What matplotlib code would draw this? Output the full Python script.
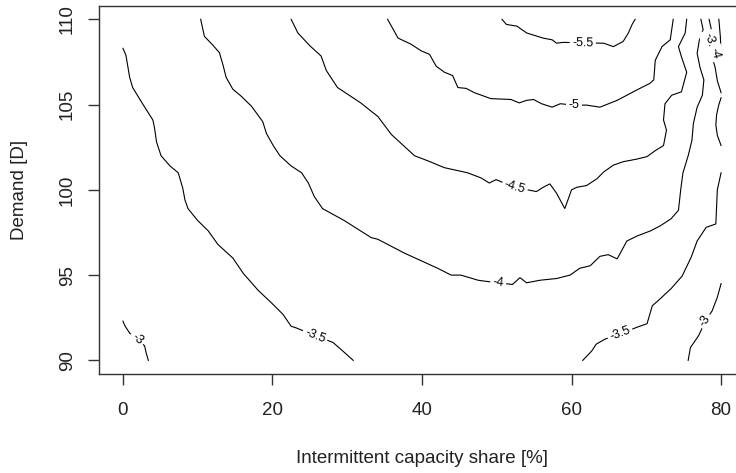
import numpy as np
import matplotlib.pyplot as plt

plt.rcParams['font.family'] = ['Liberation Sans', 'DejaVu Sans']

# contour paths (capacity share %, demand) for each level
c30_left = np.array([(0.0, 92.3), (0.3, 92.0), (0.9, 91.6), (1.9, 91.25), (2.9, 90.85),
                     (3.1, 90.45), (3.4, 90.0)])
c35_left = np.array([(0.0, 108.3), (0.4, 107.9), (0.9, 106.6), (1.3, 106.0), (2.7, 105.0),
                     (4.0, 104.1), (4.2, 103.7), (4.5, 102.8), (5.1, 102.0), (6.3, 101.4),
                     (7.4, 101.0), (8.0, 100.1), (8.3, 99.4), (8.7, 98.9), (10.0, 98.2),
                     (11.4, 97.6), (12.7, 96.8), (14.7, 96.0), (16.1, 95.1), (18.1, 94.1),
                     (19.8, 93.4), (21.4, 92.7), (22.5, 92.0), (23.2, 91.9), (25.7, 91.45),
                     (28.1, 91.05), (29.4, 90.55), (30.8, 90.0)])
c40 = np.array([(10.4, 110.0), (10.9, 109.0), (12.0, 108.5), (12.9, 108.05), (13.4, 107.3),
                (13.8, 106.6), (14.7, 105.9), (15.8, 105.5), (17.2, 104.9), (18.7, 104.0),
                (19.2, 103.3), (20.1, 102.6), (21.0, 102.0), (22.5, 101.4), (23.9, 101.0),
                (24.8, 100.4), (25.6, 99.6), (26.7, 98.9), (29.6, 98.2), (33.2, 97.2),
                (34.1, 97.1), (37.6, 96.3), (42.1, 95.4), (43.9, 95.0), (45.2, 95.0),
                (47.5, 94.7), (48.3, 94.65), (50.2, 94.55), (52.1, 94.45), (53.1, 94.85),
                (54.0, 94.55), (55.8, 94.7), (58.0, 94.8), (59.8, 95.0), (61.1, 95.4),
                (62.5, 95.55), (63.8, 96.1), (64.9, 96.2), (66.1, 95.95), (67.4, 97.0),
                (68.8, 97.3), (70.6, 97.6), (71.9, 97.9), (73.3, 98.3), (74.3, 98.8),
                (74.6, 100.0), (74.9, 101.0), (75.6, 102.0), (76.1, 102.9), (76.3, 103.9),
                (76.8, 104.85), (77.5, 105.55), (77.7, 106.45), (77.2, 107.15), (76.8, 108.0),
                (77.1, 108.8), (77.6, 109.4), (77.3, 110.0)])
c45 = np.array([(22.5, 110.0), (23.4, 109.2), (25.0, 108.45), (26.5, 107.85), (27.2, 107.0),
                (28.7, 106.0), (31.8, 105.1), (34.1, 104.3), (35.9, 103.25), (39.0, 102.0),
                (40.8, 101.7), (43.0, 101.3), (46.1, 101.0), (47.9, 100.7), (49.0, 100.4),
                (49.9, 100.6), (52.4, 100.15), (55.3, 99.9), (56.2, 100.15), (57.1, 100.35),
                (58.0, 99.8), (59.1, 98.9), (60.0, 100.0), (60.7, 100.15), (62.0, 100.25),
                (63.4, 100.65), (64.3, 101.05), (65.6, 101.45), (66.9, 101.65), (68.7, 101.8),
                (70.1, 101.95), (71.2, 102.3), (72.3, 102.6), (72.7, 103.5), (72.3, 104.1),
                (72.5, 105.05), (73.4, 105.55), (74.7, 105.75), (75.4, 106.9), (74.7, 107.8),
                (74.3, 108.4), (75.2, 109.2), (75.4, 110.0)])
c50 = np.array([(35.4, 110.0), (36.8, 108.9), (38.5, 108.55), (39.9, 108.15), (41.0, 107.95),
                (41.9, 107.25), (43.0, 106.9), (44.1, 106.7), (44.8, 106.0), (45.9, 105.95),
                (47.0, 105.7), (49.2, 105.35), (51.9, 105.3), (53.0, 105.1), (54.0, 105.25),
                (54.9, 105.3), (56.0, 105.05), (57.4, 104.85), (58.5, 105.05), (60.3, 104.97),
                (62.0, 104.97), (63.8, 104.85), (66.1, 105.25), (68.7, 105.85), (70.5, 106.25),
                (71.0, 106.45), (71.2, 107.6), (72.1, 108.4), (73.2, 108.8), (73.4, 109.4),
                (73.6, 110.0)])
c55 = np.array([(50.7, 110.0), (51.3, 109.7), (52.7, 109.6), (54.0, 109.2), (56.2, 108.9),
                (57.4, 108.8), (58.0, 108.6), (58.9, 108.65), (61.5, 108.62), (64.3, 108.6),
                (65.6, 108.4), (66.9, 108.7), (67.6, 109.2), (68.1, 109.7), (68.5, 110.0)])
c35_right = np.array([(80.0, 101.0), (79.5, 100.0), (79.3, 98.0), (78.0, 97.8), (76.8, 97.0),
                      (76.0, 96.05), (74.8, 94.95), (73.3, 94.2), (71.7, 93.55), (70.8, 93.2),
                      (70.1, 92.15), (68.8, 91.95), (66.5, 91.55), (64.5, 91.25), (63.3, 90.95),
                      (62.7, 90.55), (61.5, 90.0)])
c35_top = np.array([(78.4, 110.0), (78.7, 109.4), (78.3, 108.5), (78.7, 107.9), (79.2, 107.2),
                    (79.5, 106.4), (80.0, 105.7)])
c35_edge = np.array([(80.0, 105.4), (79.7, 105.0), (79.4, 104.4), (79.3, 103.8), (79.5, 103.2),
                     (80.0, 102.6)])
c30_right = np.array([(80.0, 94.5), (79.5, 93.7), (78.8, 92.9), (77.9, 92.3), (77.0, 91.45),
                      (75.9, 90.75), (75.6, 90.0)])
c30_top = np.array([(79.7, 110.0), (79.9, 109.0), (80.0, 108.0)])

paths = [c30_left, c35_left, c40, c45, c50, c55, c35_right, c35_top, c35_edge, c30_right, c30_top]

# inline labels: text, position, path it sits on
label_text = ['-3', '-3.5', '-4', '-4.5', '-5', '-5.5', '-3.5', '-3', '-3.5', '-4']
label_x = [1.9, 25.7, 50.2, 52.4, 60.3, 61.5, 66.5, 77.9, 78.5, 79.2]
label_y = [91.25, 91.45, 94.55, 100.15, 104.97, 108.62, 91.55, 92.3, 108.6, 108.0]
label_path = [0, 1, 2, 3, 4, 5, 6, 9, 7, 7]

x_ticks = [0, 20, 40, 60, 80]
y_ticks = [90, 95, 100, 105, 110]

W, H = 736, 473
fig = plt.figure(figsize=(W / 100, H / 100), dpi=100)
ax = fig.add_axes([99 / W, (H - 374) / H, (745 - 99) / W, (374 - 5.7) / H])
ax.set_xlim(-3.2, 83.2)
ax.set_ylim(89.2, 110.8)

for p in paths:
    ax.plot(p[:, 0], p[:, 1], color='black', lw=0.8, solid_joinstyle='miter')


def label_angle(path, lx, ly, half=13):
    # direction of the path across the label's width, in screen space
    pts = ax.transData.transform(path)
    q = ax.transData.transform((lx, ly))
    d = np.hypot(*(pts - q).T)
    near = np.where(d < half)[0]
    if len(near) >= 2:
        a, b = pts[near[0]], pts[near[-1]]
    else:
        i = int(np.argmin(d))
        a, b = pts[max(i - 1, 0)], pts[min(i + 1, len(pts) - 1)]
    ang = np.degrees(np.arctan2(b[1] - a[1], b[0] - a[0]))
    if ang > 90:
        ang -= 180
    elif ang < -90:
        ang += 180
    return ang


for txt, lx, ly, k in zip(label_text, label_x, label_y, label_path):
    ax.text(lx, ly, txt, fontsize=9, ha='center', va='center',
            rotation=label_angle(paths[k], lx, ly), rotation_mode='anchor',
            bbox=dict(boxstyle='square,pad=0.2', fc='white', ec='none'))

ax.set_xticks(x_ticks)
ax.set_yticks(y_ticks)
for s in ax.spines.values():
    s.set_color('#333333')
    s.set_linewidth(1.0)
ax.tick_params(length=8, width=1.0, color='#333333', labelsize=13.5, labelcolor='#222222')
ax.tick_params(axis='x', pad=12.5)
ax.tick_params(axis='y', pad=8.5)
for lab in ax.get_yticklabels():
    lab.set_rotation(90)
    lab.set_va('center')

ax.set_xlabel('Intermittent capacity share [%]', fontsize=13.5, color='#222222', va='center')
ax.set_ylabel('Demand [D]', fontsize=13.5, color='#222222', va='center')
ax.xaxis.set_label_coords(0.5, (374 - 458) / 368.3)
ax.yaxis.set_label_coords((20 - 99) / 646, 0.5)

fig.savefig('out.png', dpi=100)
